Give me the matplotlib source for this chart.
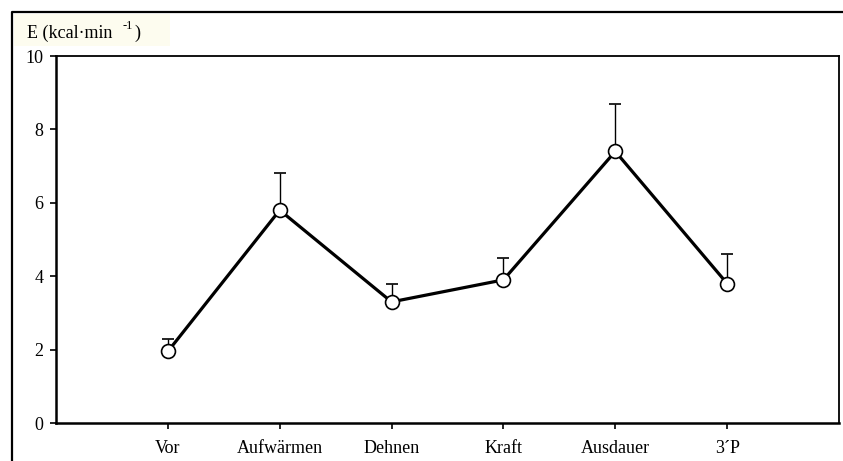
import matplotlib
matplotlib.use("Agg")
import matplotlib.pyplot as plt
from matplotlib.lines import Line2D
from matplotlib.patches import Rectangle

categories = ["Vor", "Aufwärmen", "Dehnen", "Kraft", "Ausdauer", "3\u00B4P"]
means = [1.95, 5.8, 3.3, 3.9, 7.4, 3.8]
sd_upper = [0.35, 1.0, 0.5, 0.6, 1.3, 0.8]
yticks = [0, 2, 4, 6, 8, 10]

W, H = 843, 461
plt.rcParams['font.family'] = ['Liberation Serif', 'DejaVu Serif']
fig = plt.figure(figsize=(W/100, H/100), dpi=100)

# outer frame and label background
fig.patches.append(Rectangle((14/W, 1-46/H), 156/W, 32/H, transform=fig.transFigure,
                             facecolor='#fdfcef', edgecolor='none', zorder=0))
fig.lines.append(Line2D([12/W, 12/W, 1.0], [0.0, 1-12/H, 1-12/H], transform=fig.transFigure,
                        color='black', linewidth=1.6))

ax = fig.add_axes([56/W, 1-423/H, (839-56)/W, (423-56)/H])
x = list(range(1, len(categories)+1))
tops = [m + s for m, s in zip(means, sd_upper)]

ax.vlines(x, means, tops, colors='black', linewidth=1.0, zorder=2)
ax.plot(x, tops, linestyle='none', marker='_', markersize=9, markeredgewidth=1.2,
        color='black', zorder=2)
ax.plot(x, means, color='black', linewidth=2.3, zorder=3,
        marker='o', markersize=10, markerfacecolor='white', markeredgecolor='black',
        markeredgewidth=1.2)

ax.set_xlim(0, 7)
ax.set_ylim(0, 10)
ax.set_yticks(yticks)
ax.set_yticklabels([str(v) for v in yticks])
ax.set_xticks(x)
ax.set_xticklabels(categories)
ax.tick_params(axis='y', direction='out', length=4, width=1.2, labelsize=13, pad=5)
ax.tick_params(axis='x', direction='out', length=4, width=1.2, labelsize=13, pad=8)
for s in ['left', 'bottom']:
    ax.spines[s].set_linewidth(1.8)
for s in ['top', 'right']:
    ax.spines[s].set_linewidth(1.3)

fig.text(27/W, 1-38/H, "E (kcal\u00B7min", fontsize=13, ha='left', va='baseline')
fig.text(123/W, 1-29/H, "-1", fontsize=9, ha='left', va='baseline')
fig.text(134/W, 1-38/H, ")", fontsize=13, ha='left', va='baseline')

fig.savefig("out.png", dpi=100)
